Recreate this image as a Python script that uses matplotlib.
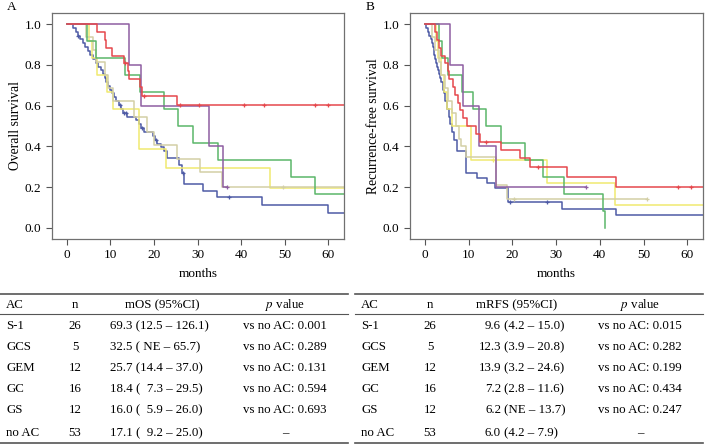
import numpy as np
import matplotlib
matplotlib.use('Agg')
import matplotlib.pyplot as plt
from matplotlib.lines import Line2D

plt.rcParams['font.family'] = ['Liberation Serif', 'DejaVu Serif']
plt.rcParams['mathtext.fontset'] = 'stix'

# ---- 데이터: 그룹 / 색 ----
groups = ['S-1', 'GCS', 'GEM', 'GC', 'GS', 'no AC']
n_pts = [26, 5, 12, 16, 12, 53]
colors = ['#e5484d', '#8e5ea2', '#5bb66a', '#d3cfa6', '#f0e970', '#4e5ba6']

# ---- A: Overall survival (시간, 생존율) ----
os_s1_t = [0, 6.9, 8.7, 9.0, 10.4, 13.1, 14.0, 14.2, 16.7, 17.3, 25.3]
os_s1_s = [1, .962, .923, .885, .846, .808, .769, .731, .692, .650, .604]
os_s1_cens = [13.4, 17.6, 26.0, 30.4, 40.7, 45.3, 57.0, 59.9]
os_s1_end = 65

os_gcs_t = [0, 14.3, 17.0, 32.6, 35.8]
os_gcs_s = [1, .8, .6, .4, .2]
os_gcs_cens = [36.7]
os_gcs_end = 36.7

os_gem_t = [0, 4.7, 6.6, 13.4, 16.7, 22.2, 25.5, 28.9, 34.8, 51.4, 57.0]
os_gem_s = [1, .917, .833, .75, .667, .583, .5, .417, .333, .25, .167]
os_gem_cens = []
os_gem_end = 65

os_gc_t = [0, 4.5, 6.0, 6.8, 8.8, 9.5, 10.5, 15.5, 18.5, 20.1, 25.2, 30.6, 35.5]
os_gc_s = [1, .9375, .875, .8125, .75, .6875, .625, .546, .473, .407, .337, .274, .203]
os_gc_cens = [49.7]
os_gc_end = 65

os_gs_t = [0, 5.0, 5.8, 6.9, 9.2, 10.6, 16.5, 22.8, 46.6]
os_gs_s = [1, .917, .833, .75, .667, .583, .389, .292, .194]
os_gs_cens = []
os_gs_end = 65

os_no_t = [0, 1.5, 2.0, 2.5, 3.0, 3.6, 4.2, 4.8, 5.4, 6.0, 6.6, 7.2, 7.8, 8.3, 8.7,
           9.1, 9.5, 9.9, 10.3, 10.8, 11.3, 11.9, 12.5, 13.0, 13.8, 15.9, 16.5, 17.0,
           17.6, 19.8, 20.3, 20.8, 21.6, 22.3, 22.9, 25.7, 26.4, 27.0, 31.3, 34.5, 44.7, 60.0]
os_no_s = [1, .981, .962, .943, .925, .906, .887, .868, .849, .830, .811, .792, .774, .755, .736,
           .717, .698, .679, .660, .641, .623, .604, .585, .566, .547, .528, .509, .490,
           .471, .452, .433, .414, .395, .376, .342, .310, .268, .214, .182, .154, .114, .075]
os_no_cens = [2.6, 12.3, 13.2, 13.5, 17.2, 20.5, 26.6, 37.1]
os_no_end = 65

# ---- B: Recurrence-free survival ----
rfs_s1_t = [0, 2.3, 2.8, 3.3, 3.7, 4.5, 5.2, 5.6, 6.4, 7.0, 7.6, 8.1, 8.8, 9.6, 11.6,
            12.6, 17.4, 21.7, 24.0, 32.5, 43.7]
rfs_s1_s = [1, .962, .923, .885, .846, .808, .769, .731, .692, .654, .615, .577, .538, .500, .462,
            .423, .383, .342, .300, .252, .200]
rfs_s1_cens = [13.9, 25.9, 57.9, 60.8]
rfs_s1_end = 65

rfs_gcs_t = [0, 5.7, 8.7, 12.3, 16.2]
rfs_gcs_s = [1, .8, .6, .4, .2]
rfs_gcs_cens = [36.9]
rfs_gcs_end = 36.9

rfs_gem_t = [0, 3.2, 4.0, 5.3, 8.5, 11.0, 13.9, 17.5, 22.8, 27.1, 31.8, 40.7, 41.2]
rfs_gem_s = [1, .917, .833, .75, .667, .583, .5, .417, .333, .25, .167, .083, 0]
rfs_gem_cens = []
rfs_gem_end = 41.2

rfs_gc_t = [0, 1.6, 2.4, 3.2, 3.8, 4.5, 5.2, 6.3, 7.2, 7.8, 8.3, 9.3, 16.3, 18.8]
rfs_gc_s = [1, .9375, .875, .8125, .75, .6875, .625, .5625, .5, .4375, .40, .35, .21, .14]
rfs_gc_cens = [20.3, 50.7]
rfs_gc_end = 50.7

rfs_gs_t = [0, 2.5, 3.0, 3.6, 4.3, 5.0, 6.2, 10.5, 27.9, 43.4]
rfs_gs_s = [1, .917, .833, .75, .667, .583, .5, .333, .222, .111]
rfs_gs_cens = [15.6]
rfs_gs_end = 65

rfs_no_t = [0, 0.3, 0.7, 1.0, 1.3, 1.6, 1.8, 2.0, 2.2, 2.4, 2.6, 2.8, 3.0, 3.3, 3.5,
            3.8, 4.1, 4.4, 4.7, 5.1, 5.5, 5.8, 6.2, 6.7, 7.3, 9.3, 12.0, 14.3, 16.1, 19.0,
            31.4, 43.7]
rfs_no_s = [1, .981, .962, .943, .925, .906, .887, .868, .849, .830, .811, .792, .774, .755, .736,
            .717, .679, .660, .623, .585, .547, .509, .472, .434, .377, .268, .245, .222, .198, .129,
            .093, .064]
rfs_no_cens = [19.4, 27.9]
rfs_no_end = 65

os_curves = [(os_s1_t, os_s1_s, os_s1_cens, os_s1_end),
             (os_gcs_t, os_gcs_s, os_gcs_cens, os_gcs_end),
             (os_gem_t, os_gem_s, os_gem_cens, os_gem_end),
             (os_gc_t, os_gc_s, os_gc_cens, os_gc_end),
             (os_gs_t, os_gs_s, os_gs_cens, os_gs_end),
             (os_no_t, os_no_s, os_no_cens, os_no_end)]
rfs_curves = [(rfs_s1_t, rfs_s1_s, rfs_s1_cens, rfs_s1_end),
              (rfs_gcs_t, rfs_gcs_s, rfs_gcs_cens, rfs_gcs_end),
              (rfs_gem_t, rfs_gem_s, rfs_gem_cens, rfs_gem_end),
              (rfs_gc_t, rfs_gc_s, rfs_gc_cens, rfs_gc_end),
              (rfs_gs_t, rfs_gs_s, rfs_gs_cens, rfs_gs_end),
              (rfs_no_t, rfs_no_s, rfs_no_cens, rfs_no_end)]

# ---- 표 데이터 ----
mos_txt = ['69.3 (12.5 – 126.1)', '32.5 ( NE – 65.7)', '25.7 (14.4 – 37.0)',
           '18.4 (  7.3 – 29.5)', '16.0 (  5.9 – 26.0)', '17.1 (  9.2 – 25.0)']
p_os = ['vs no AC: 0.001', 'vs no AC: 0.289', 'vs no AC: 0.131',
        'vs no AC: 0.594', 'vs no AC: 0.693', '–']
mrfs_med = ['9.6', '12.3', '13.9', '7.2', '6.2', '6.0']
mrfs_ci = ['(4.2 – 15.0)', '(3.9 – 20.8)', '(3.2 – 24.6)', '(2.8 – 11.6)',
           '(NE – 13.7)', '(4.2 – 7.9)']
p_rfs = ['vs no AC: 0.015', 'vs no AC: 0.282', 'vs no AC: 0.199',
         'vs no AC: 0.434', 'vs no AC: 0.247', '–']

W, H = 709, 446
fig = plt.figure(figsize=(W / 100, H / 100), dpi=100)


def fx(x):
    return x / W


def fy(y):
    return 1 - y / H


def km_plot(ax, curves, ylabel):
    # 그룹 순서 반대로 그려서 S-1 이 위에 오게
    for (t, s, cens, end), c in reversed(list(zip(curves, colors))):
        ax.step(t + [end], s + [s[-1]], where='post', color=c, lw=1.1)
        if cens:
            idx = np.searchsorted(t, cens, side='right') - 1
            ax.plot(cens, np.array(s)[idx], '+', color=c, ms=3, mew=0.9)
    ax.set_xlim(-3.4, 63.6)
    ax.set_ylim(-0.054, 1.055)
    ax.set_xticks([0, 10, 20, 30, 40, 50, 60])
    ax.set_yticks([0.0, 0.2, 0.4, 0.6, 0.8, 1.0])
    ax.set_yticklabels(['0.0', '0.2', '0.4', '0.6', '0.8', '1.0'])
    ax.set_xlabel('months', fontsize=9.5, labelpad=5)
    ax.set_ylabel(ylabel, fontsize=9.8, labelpad=2)
    ax.tick_params(labelsize=9.5, length=4, width=0.8, color='#555555', direction='out')
    for sp in ax.spines.values():
        sp.set_color('#707070')
        sp.set_linewidth(0.9)


axA = fig.add_axes([fx(52), fy(239), fx(292), 226 / H])
km_plot(axA, os_curves, 'Overall survival')
axB = fig.add_axes([fx(410), fy(239), fx(293), 226 / H])
km_plot(axB, rfs_curves, 'Recurrence-free survival')

fig.text(fx(7), fy(7), 'A', fontsize=9.5, va='center')
fig.text(fx(366), fy(7), 'B', fontsize=9.5, va='center')

# ---- 표 ----
row_y = [326, 347, 368, 389, 410, 433]
fs = 9.3


def hline(x0, x1, y, lw):
    fig.add_artist(Line2D([fx(x0), fx(x1)], [fy(y), fy(y)], color='#555555', lw=lw))


for x0, x1 in [(0, 348), (355, 703)]:
    hline(x0, x1, 294, 1.2)
    hline(x0, x1, 314, 0.8)
    hline(x0, x1, 443, 1.2)

# 표 A
fig.text(fx(6), fy(305), 'AC', fontsize=fs, va='center')
fig.text(fx(75), fy(305), 'n', fontsize=fs, va='center', ha='center')
fig.text(fx(162), fy(305), 'mOS (95%CI)', fontsize=fs, va='center', ha='center')
fig.text(fx(285), fy(305), '$p$ value', fontsize=fs, va='center', ha='center')
for i, y in enumerate(row_y):
    fig.text(fx(6), fy(y), groups[i], fontsize=fs, va='center')
    fig.text(fx(75), fy(y), str(n_pts[i]), fontsize=fs, va='center', ha='center')
    fig.text(fx(110), fy(y), mos_txt[i], fontsize=fs, va='center')
    fig.text(fx(285), fy(y), p_os[i], fontsize=fs, va='center', ha='center')

# 표 B
fig.text(fx(361), fy(305), 'AC', fontsize=fs, va='center')
fig.text(fx(430), fy(305), 'n', fontsize=fs, va='center', ha='center')
fig.text(fx(517), fy(305), 'mRFS (95%CI)', fontsize=fs, va='center', ha='center')
fig.text(fx(640), fy(305), '$p$ value', fontsize=fs, va='center', ha='center')
for i, y in enumerate(row_y):
    fig.text(fx(361), fy(y), groups[i], fontsize=fs, va='center')
    fig.text(fx(430), fy(y), str(n_pts[i]), fontsize=fs, va='center', ha='center')
    fig.text(fx(501), fy(y), mrfs_med[i], fontsize=fs, va='center', ha='right')
    fig.text(fx(504), fy(y), mrfs_ci[i], fontsize=fs, va='center')
    fig.text(fx(640), fy(y), p_rfs[i], fontsize=fs, va='center', ha='center')

fig.savefig('out.png', dpi=100)
